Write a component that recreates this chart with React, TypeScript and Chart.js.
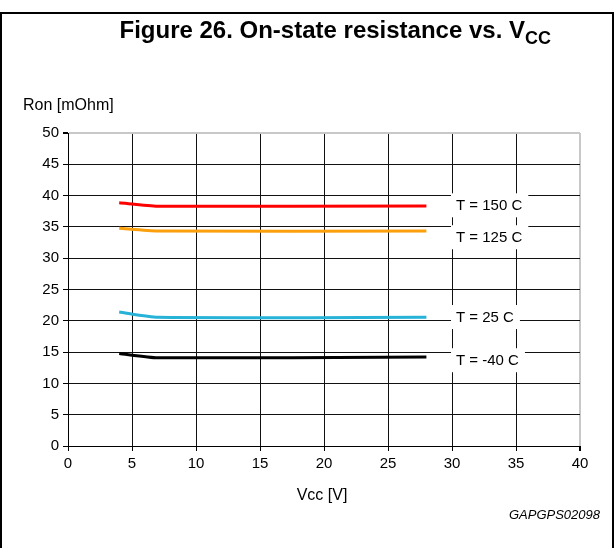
import React, { useEffect, useRef } from "react";
import { Chart, registerables } from "chart.js";

Chart.register(...registerables);

const vcc = [4, 7, 28];
const t150 = [38.85, 38.3, 38.35];
const t125 = [34.78, 34.34, 34.34];
const t25 = [21.4, 20.55, 20.55];
const tm40 = [14.78, 14.1, 14.2];

const seriesNames = ["T = 150 C", "T = 125 C", "T = 25 C", "T = -40 C"];
const seriesColors = ["#ff0000", "#fba00c", "#27b2d8", "#000000"];
const labelX = [30, 30, 30, 30];
const labelY = [38.45, 33.35, 20.6, 13.7];

const xTicksMax = 40;
const yTicksMax = 50;

const FONT = '"Liberation Sans", Arial, sans-serif';

const decorPlugin = {
  id: "decor",
  afterDraw(chart: any) {
    const ctx = chart.ctx as CanvasRenderingContext2D;
    const xs = chart.scales.x;
    const ys = chart.scales.y;
    ctx.save();
    ctx.font = `15px ${FONT}`;
    ctx.textBaseline = "middle";
    ctx.textAlign = "left";
    for (let i = 0; i < seriesNames.length; i++) {
      const px = xs.getPixelForValue(labelX[i]) + 4;
      const py = ys.getPixelForValue(labelY[i]);
      const w = ctx.measureText(seriesNames[i]).width;
      ctx.fillStyle = "#ffffff";
      ctx.fillRect(px - 5, py - 12, w + 11, 24);
      ctx.fillStyle = "#000000";
      ctx.fillText(seriesNames[i], px, py + 1);
    }
    ctx.strokeStyle = "#000";
    ctx.lineWidth = 2;
    ctx.strokeRect(1, 13, 612, 545);
    ctx.textBaseline = "alphabetic";
    ctx.font = `bold 24px ${FONT}`;
    const main = "Figure 26. On-state resistance vs. V";
    const w1 = ctx.measureText(main).width;
    ctx.font = `bold 18px ${FONT}`;
    const w2 = ctx.measureText("CC").width;
    const start = 551 - w1 - w2;
    ctx.font = `bold 24px ${FONT}`;
    ctx.fillStyle = "#000";
    ctx.fillText(main, start, 38);
    ctx.font = `bold 18px ${FONT}`;
    ctx.fillText("CC", start + w1, 44);
    ctx.font = `16px ${FONT}`;
    ctx.textAlign = "left";
    ctx.fillText("Ron [mOhm]", 23, 110);
    ctx.textAlign = "center";
    ctx.fillText("Vcc [V]", 322, 500);
    ctx.textAlign = "right";
    ctx.font = `italic 13px ${FONT}`;
    ctx.fillText("GAPGPS02098", 600, 519);
    ctx.restore();
  },
};

export default function App() {
  const ref = useRef<HTMLCanvasElement>(null);
  useEffect(() => {
    if (!ref.current) return;
    const sets = [t150, t125, t25, tm40];
    const chart = new Chart(ref.current, {
      type: "line",
      data: {
        datasets: sets.map((s, i) => ({
          label: seriesNames[i],
          data: vcc.map((x, j) => ({ x, y: s[j] })),
          borderColor: seriesColors[i],
          backgroundColor: seriesColors[i],
          borderWidth: 3,
          pointRadius: 0,
          tension: 0.2,
          fill: false,
        })),
      },
      options: {
        responsive: false,
        animation: false,
        layout: { padding: { left: 0, top: 133, right: 35, bottom: 72 } },
        plugins: { legend: { display: false }, tooltip: { enabled: false }, title: { display: false } },
        scales: {
          x: {
            type: "linear",
            min: 0,
            max: xTicksMax,
            ticks: { stepSize: 5, color: "#000", font: { size: 15, family: FONT }, padding: 4, maxRotation: 0 },
            grid: {
              color: (c: any) => (c.tick && c.tick.value === xTicksMax ? "#c8c8c8" : "#111"),
              lineWidth: (c: any) => (c.tick && c.tick.value === xTicksMax ? 2 : 1),
              tickColor: "#000",
              tickLength: 5,
            },
            border: { color: "#000", width: 1 },
            afterFit: (s: any) => {
              s.height = 30;
            },
          },
          y: {
            type: "linear",
            min: 0,
            max: yTicksMax,
            ticks: { stepSize: 5, color: "#000", font: { size: 15, family: FONT }, padding: 4 },
            grid: {
              color: (c: any) => (c.tick && c.tick.value === yTicksMax ? "#c8c8c8" : "#111"),
              lineWidth: (c: any) => (c.tick && c.tick.value === yTicksMax ? 2 : 1),
              tickColor: "#000",
              tickLength: 5,
            },
            border: { color: "#000", width: 1 },
            afterFit: (s: any) => {
              s.width = 68;
            },
          },
        },
      },
      plugins: [decorPlugin],
    });
    return () => chart.destroy();
  }, []);
  return (
    <div style={{ position: "absolute", left: 0, top: 0, width: 615, height: 548, background: "#fff" }}>
      <canvas ref={ref} width={615} height={548} style={{ width: 615, height: 548, display: "block" }} />
    </div>
  );
}
